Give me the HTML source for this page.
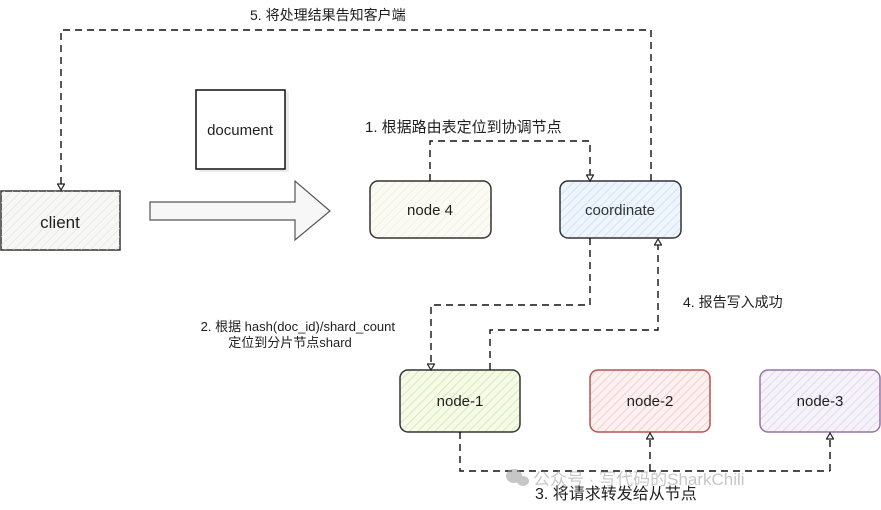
<!DOCTYPE html>
<html><head><meta charset="utf-8"><style>
html,body{margin:0;padding:0;background:#fff;}
svg{display:block;}
text{font-family:"Liberation Sans","Noto Sans CJK SC",sans-serif;fill:#1f1f1f;}
</style></head><body>
<svg width="881" height="510" viewBox="0 0 881 510" xmlns="http://www.w3.org/2000/svg">
<defs>
<pattern id="hatch" width="6" height="6" patternUnits="userSpaceOnUse" patternTransform="rotate(45)">
<line x1="0" y1="0" x2="0" y2="6" stroke="#ddd" stroke-width="1"/></pattern>
<pattern id="hg" width="6" height="6" patternUnits="userSpaceOnUse" patternTransform="rotate(45)">
<rect width="6" height="6" fill="#f4fbe8"/><line x1="0" y1="0" x2="0" y2="6" stroke="#cde8a0" stroke-width="1.5"/></pattern>
<pattern id="hr" width="6" height="6" patternUnits="userSpaceOnUse" patternTransform="rotate(45)">
<rect width="6" height="6" fill="#fdf0f0"/><line x1="0" y1="0" x2="0" y2="6" stroke="#f3c4c4" stroke-width="1.5"/></pattern>
<pattern id="hp" width="6" height="6" patternUnits="userSpaceOnUse" patternTransform="rotate(45)">
<rect width="6" height="6" fill="#f6f2fa"/><line x1="0" y1="0" x2="0" y2="6" stroke="#ddd0ec" stroke-width="1.5"/></pattern>
<pattern id="hb" width="6" height="6" patternUnits="userSpaceOnUse" patternTransform="rotate(45)">
<rect width="6" height="6" fill="#eef5fd"/><line x1="0" y1="0" x2="0" y2="6" stroke="#c9def5" stroke-width="1.5"/></pattern>
<pattern id="hy" width="6" height="6" patternUnits="userSpaceOnUse" patternTransform="rotate(45)">
<rect width="6" height="6" fill="#fbfbf4"/><line x1="0" y1="0" x2="0" y2="6" stroke="#e8e8d8" stroke-width="1.2"/></pattern>
<marker id="ar" markerWidth="8" markerHeight="8" refX="7" refY="4" orient="auto" markerUnits="userSpaceOnUse">
<path d="M1,0.5 L7,4 L1,7.5 Z" fill="#fff" stroke="#222" stroke-width="1.2"/></marker>
</defs>

<rect x="1" y="191" width="119" height="59" fill="#f7f7f5" stroke="#333" stroke-width="1.5"/>
<rect x="1" y="191" width="119" height="59" fill="url(#hatch)"/>
<text x="60" y="228" font-size="17" text-anchor="middle">client</text>

<path d="M150,202 L295,202 L295,181 L330,211 L295,240 L295,220 L150,220 Z" fill="#f7f7f7" stroke="#555" stroke-width="1.2"/>

<rect x="199" y="92" width="90" height="80" fill="#ddd" opacity="0.6"/>
<rect x="196" y="90" width="89" height="79" fill="#fff" stroke="#111" stroke-width="1.5"/>
<text x="240" y="135" font-size="15" text-anchor="middle">document</text>

<rect x="370" y="181" width="121" height="57" rx="8" fill="url(#hy)" stroke="#333" stroke-width="1.5"/>
<text x="430" y="215" font-size="15" text-anchor="middle">node 4</text>

<rect x="560" y="181" width="121" height="57" rx="8" fill="url(#hb)" stroke="#333" stroke-width="1.5"/>
<text x="620" y="215" font-size="15" text-anchor="middle" style="fill:#333">coordinate</text>

<rect x="400" y="370" width="120" height="62" rx="8" fill="url(#hg)" stroke="#333" stroke-width="1.5"/>
<text x="460" y="406" font-size="15" text-anchor="middle">node-1</text>
<rect x="590" y="370" width="120" height="62" rx="8" fill="url(#hr)" stroke="#b85450" stroke-width="1.5"/>
<text x="650" y="406" font-size="15" text-anchor="middle">node-2</text>
<rect x="760" y="370" width="120" height="62" rx="8" fill="url(#hp)" stroke="#9673a6" stroke-width="1.5"/>
<text x="820" y="406" font-size="15" text-anchor="middle">node-3</text>

<g fill="none" stroke="#111" stroke-width="1.4" stroke-dasharray="7,5">
<path d="M651,181 L651,30 L61,30 L61,190" marker-end="url(#ar)"/>
<path d="M430,181 L430,141 L590,141 L590,181" marker-end="url(#ar)"/>
<path d="M590,238 L590,305 L431,305 L431,370" marker-end="url(#ar)"/>
<path d="M490,370 L490,330 L658,330 L658,239" marker-end="url(#ar)"/>
<path d="M460,432 L460,471 L830,471"/>
<path d="M650,471 L650,433" marker-end="url(#ar)"/>
<path d="M830,471 L830,433" marker-end="url(#ar)"/>
</g>

<text x="250" y="20" font-size="14">5. 将处理结果告知客户端</text>
<text x="365" y="132" font-size="15">1. 根据路由表定位到协调节点</text>
<text x="395" y="331" font-size="13" text-anchor="end">2. 根据 hash(doc_id)/shard_count</text>
<text x="290" y="347" font-size="13" text-anchor="middle">定位到分片节点shard</text>
<text x="683" y="307" font-size="14">4. 报告写入成功</text>
<text x="535" y="499" font-size="16">3. 将请求转发给从节点</text>

<g opacity="0.55">
<ellipse cx="514" cy="476" rx="8" ry="7" fill="#999"/>
<ellipse cx="523" cy="481" rx="6" ry="5" fill="#999"/>
<text x="533" y="485" font-size="17" style="fill:#999">公众号 · 写代码的SharkChili</text>
</g>
</svg>
</body></html>
